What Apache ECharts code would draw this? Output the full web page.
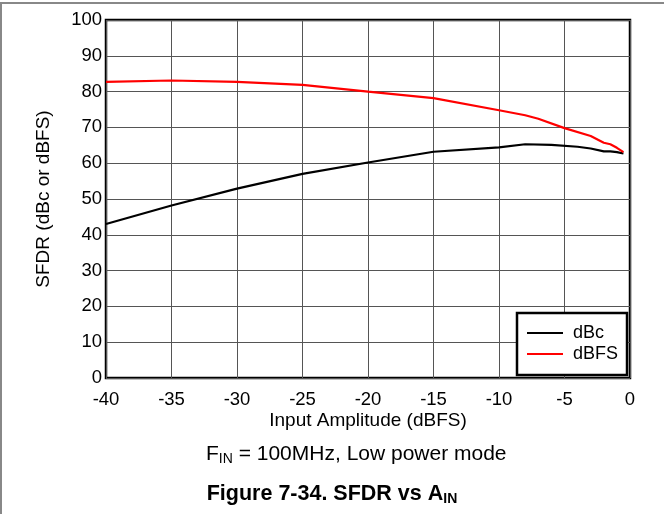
<!DOCTYPE html>
<html><head><meta charset="utf-8">
<script src="https://cdn.jsdelivr.net/npm/echarts@6/dist/echarts.min.js"></script>
<style>html,body{margin:0;padding:0;background:#fff}#c{width:664px;height:514px}</style>
</head><body><div id="c"></div>
<script>
const xTicks = [-40,-35,-30,-25,-20,-15,-10,-5,0];
const yTicks = [0,10,20,30,40,50,60,70,80,90,100];
const dBcX = [-40,-35,-30,-25,-20,-15,-10,-8,-6,-4,-3,-2,-1.5,-1,-0.5];
const dBcY = [43,48.2,52.9,57,60.2,63.2,64.4,65.3,65.1,64.6,64.1,63.3,63.3,63.1,62.7];
const dBFSX = [-40,-35,-30,-25,-20,-15,-10,-8,-7,-5,-3,-2,-1.5,-1,-0.5];
const dBFSY = [82.7,83.1,82.7,81.9,80,78.2,74.8,73.4,72.4,69.8,67.6,65.7,65.3,64.3,63.1];
const chart = echarts.init(document.getElementById('c'), null, {renderer:'canvas'});
const font = 'Liberation Sans, Arial, sans-serif';
chart.setOption({
  animation:false,
  backgroundColor:'#fff',
  grid:{left:106,right:34,top:20,bottom:136,show:true,borderColor:'#000',borderWidth:2.5,backgroundColor:'transparent'},
  xAxis:{type:'value',min:-40,max:0,interval:5,
    axisLine:{show:false},axisTick:{show:false},
    axisLabel:{color:'#000',fontSize:18.5,fontFamily:font,margin:12},
    splitLine:{show:true,lineStyle:{color:'#555',width:1}},
    name:'Input Amplitude (dBFS)',nameLocation:'middle',nameGap:33,nameMoveOverlap:false,
    nameTextStyle:{color:'#000',fontSize:19,fontFamily:font}},
  yAxis:{type:'value',min:0,max:100,interval:10,
    axisLine:{show:false},axisTick:{show:false},
    axisLabel:{color:'#000',fontSize:18.5,fontFamily:font,margin:4},
    splitLine:{show:true,lineStyle:{color:'#555',width:1}},
    name:'SFDR (dBc or dBFS)',nameLocation:'middle',nameGap:53,nameMoveOverlap:false,
    nameTextStyle:{color:'#000',fontSize:19,fontFamily:font}},
  legend:{left:517,top:313,orient:'vertical',
    padding:[11,9,12,10],itemGap:3,itemWidth:36,itemHeight:14,
    backgroundColor:'#fff',borderColor:'#000',borderWidth:2.5,
    textStyle:{color:'#000',fontSize:18,fontFamily:font,lineHeight:18,padding:[0,0,0,5]},
    data:[{name:'dBc',icon:'path://M0,6L36,6L36,8L0,8Z'},{name:'dBFS',icon:'path://M0,6L36,6L36,8L0,8Z'}]},
  title:[
    {text:'{n|F}{s|IN}{n| = 100MHz, Low power mode}',left:201,top:437,
      textStyle:{rich:{n:{fontSize:21,fontWeight:'normal',fontFamily:font,color:'#000'},s:{fontSize:14,fontWeight:'normal',fontFamily:font,color:'#000',verticalAlign:'bottom',padding:[10,0,0,0]}}}},
    {text:'{n|Figure 7-34. SFDR vs A}{s|IN}',left:'center',top:477,
      textStyle:{rich:{n:{fontSize:21.5,fontWeight:'bold',fontFamily:font,color:'#000'},s:{fontSize:14,fontWeight:'bold',fontFamily:font,color:'#000',verticalAlign:'bottom',padding:[10,0,0,0]}}}}
  ],
  graphic:[
    {type:'line',shape:{x1:0,y1:3,x2:664,y2:3},style:{stroke:'#888',lineWidth:2}},
    {type:'line',shape:{x1:1,y1:3,x2:1,y2:514},style:{stroke:'#888',lineWidth:2}}
  ],
  series:[
    {name:'dBc',type:'line',showSymbol:false,color:'#000',lineStyle:{color:'#000',width:2.2},
      data:dBcX.map((x,i)=>[x,dBcY[i]])},
    {name:'dBFS',type:'line',showSymbol:false,color:'#f00',lineStyle:{color:'#f00',width:2.2},
      data:dBFSX.map((x,i)=>[x,dBFSY[i]])}
  ]
});
</script></body></html>
